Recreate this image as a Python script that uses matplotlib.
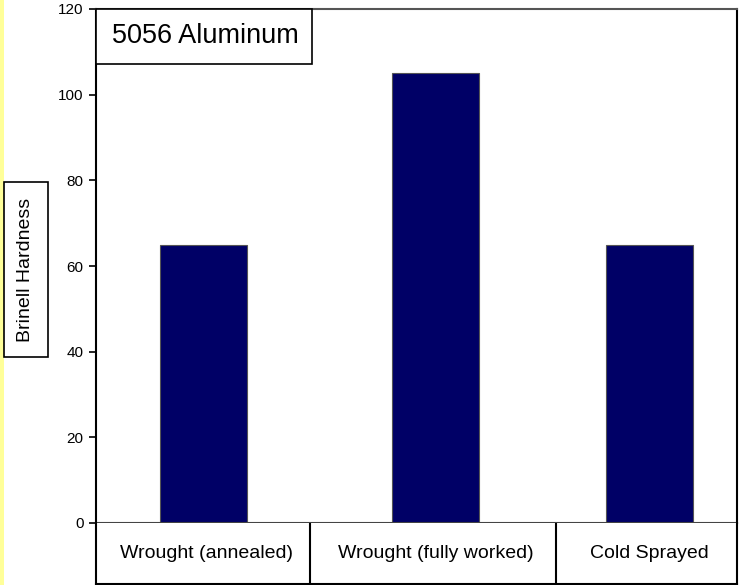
import matplotlib
matplotlib.use("Agg")
import matplotlib.pyplot as plt
from matplotlib.patches import Rectangle

# data
categories = ["Wrought (annealed)", "Wrought (fully worked)", "Cold Sprayed"]
hardness = [65, 105, 65]
yticks = [0, 20, 40, 60, 80, 100, 120]
title = "5056 Aluminum"
ylabel = "Brinell Hardness"

W, H = 739, 585
fig = plt.figure(figsize=(W / 100, H / 100), dpi=100)
plt.rcParams['font.family'] = ['Liberation Sans', 'DejaVu Sans']

def fx(px):
    return px / W

def fy(py):
    return 1 - py / H

# yellow strip at left
fig.patches.append(Rectangle((0, 0), fx(4), 1, transform=fig.transFigure,
                             facecolor='#ffff99', edgecolor='none', zorder=0))

ax_l, ax_r, ax_t, ax_b = 96, 737, 9, 523
ax = fig.add_axes([fx(ax_l), fy(ax_b), fx(ax_r - ax_l), fy(ax_t) - fy(ax_b)])

# category cell widths (layout, pixels)
cell_px = [214, 246, 181]
total = sum(cell_px)
edges = [0]
for c in cell_px:
    edges.append(edges[-1] + c)
centers = [(edges[i] + edges[i + 1]) / 2 for i in range(3)]
bar_centers = [centers[0], centers[1] + 2, centers[2] + 3]
bar_w = 87

ax.bar(bar_centers, hardness, width=bar_w, color='#000066', edgecolor='#555555', linewidth=0.8)
ax.set_xlim(0, total)
ax.set_ylim(0, 120)
ax.set_yticks(yticks)
ax.set_yticklabels([str(v) for v in yticks], fontsize=11)
ax.set_xticks([])
ax.tick_params(axis='y', direction='out', length=5, width=1.2, pad=4)
for s in ax.spines.values():
    s.set_linewidth(1.5)
    s.set_color('black')
ax.spines['top'].set_color('#555555')
ax.spines['bottom'].set_color('#444444')

# title box
tb_l, tb_r, tb_t, tb_b = 96, 312, 9, 64
fig.patches.append(Rectangle((fx(tb_l), fy(tb_b)), fx(tb_r - tb_l), fy(tb_t) - fy(tb_b),
                             transform=fig.transFigure, facecolor='white',
                             edgecolor='black', linewidth=1.2, zorder=5))
fig.text(fx(112), fy(36), title, fontsize=19.5, ha='left', va='center', zorder=6)

# y label box
lb_l, lb_r, lb_t, lb_b = 4, 48, 182, 357
fig.patches.append(Rectangle((fx(lb_l), fy(lb_b)), fx(lb_r - lb_l), fy(lb_t) - fy(lb_b),
                             transform=fig.transFigure, facecolor='white',
                             edgecolor='black', linewidth=1.2, zorder=5))
fig.text(fx((lb_l + lb_r) / 2), fy((lb_t + lb_b) / 2), ylabel, fontsize=14,
         rotation=90, ha='center', va='center', zorder=6)

# category table below axes
tab_b = 584
tab = fig.add_axes([fx(ax_l), fy(tab_b), fx(ax_r - ax_l), fy(ax_b) - fy(tab_b)])
tab.set_xlim(0, total)
tab.set_ylim(0, 1)
tab.set_xticks([])
tab.set_yticks([])
for s in tab.spines.values():
    s.set_linewidth(1.5)
    s.set_color('black')
tab.spines['top'].set_visible(False)
for e in edges[1:-1]:
    tab.axvline(e, color='black', linewidth=1.5)
for c, lab in zip(centers, categories):
    tab.text(c + 3, 0.5, lab, ha='center', va='center', fontsize=14)

fig.savefig("out.png", dpi=100, facecolor='white')
